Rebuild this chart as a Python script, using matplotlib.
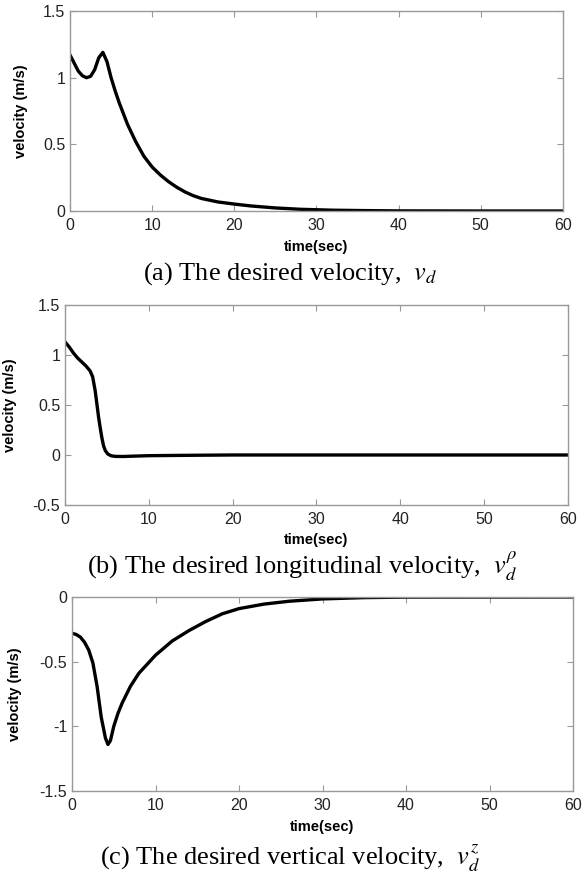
import matplotlib.pyplot as plt

plt.rcParams['font.family'] = ['Liberation Sans', 'DejaVu Sans']
plt.rcParams['mathtext.fontset'] = 'stix'

# (a) desired velocity
t_a = [0, 0.5, 1, 1.5, 2, 2.5, 3, 3.5, 4, 4.5, 5, 5.5, 6, 7, 8, 9, 10, 11, 12,
       13, 14, 15, 16, 18, 20, 22, 25, 28, 32, 36, 40, 50, 60]
v_a = [1.17, 1.11, 1.05, 1.015, 1.0, 1.01, 1.06, 1.15, 1.19, 1.12, 1.0, 0.90,
       0.81, 0.65, 0.52, 0.41, 0.33, 0.27, 0.22, 0.178, 0.143, 0.115, 0.094,
       0.068, 0.052, 0.038, 0.023, 0.013, 0.006, 0.003, 0.001, 0, 0]

# (b) desired longitudinal velocity
t_b = [0, 0.5, 1, 1.5, 2, 2.5, 3, 3.3, 3.6, 3.8, 4.0, 4.2, 4.4, 4.6, 4.8, 5.1,
       5.5, 6, 7, 8, 10, 15, 20, 60]
v_b = [1.13, 1.08, 1.02, 0.97, 0.93, 0.89, 0.84, 0.78, 0.64, 0.51, 0.38, 0.27,
       0.17, 0.09, 0.045, 0.01, -0.008, -0.014, -0.015, -0.012, -0.007, -0.003,
       0, 0]

# (c) desired vertical velocity
t_c = [0, 0.5, 1, 1.5, 2, 2.5, 3, 3.5, 4, 4.3, 4.6, 5, 5.5, 6, 7, 8, 9, 10, 12,
       14, 16, 18, 20, 23, 26, 30, 35, 40, 60]
v_c = [-0.28, -0.29, -0.31, -0.35, -0.41, -0.51, -0.69, -0.93, -1.09, -1.14,
       -1.11, -1.0, -0.9, -0.82, -0.69, -0.59, -0.52, -0.45, -0.34, -0.26,
       -0.19, -0.13, -0.09, -0.055, -0.033, -0.015, -0.005, -0.001, 0]

xticks = [0, 10, 20, 30, 40, 50, 60]

panels = [
    (t_a, v_a, [0.1195, 0.7594, 0.841, 0.228], (0, 1.5), [0, 0.5, 1, 1.5],
     ['0', '0.5', '1', '1.5'], -0.085, -0.145,
     r"(a) The desired velocity,  $v_d$", 0.496, 0.6807),
    (t_b, v_b, [0.111, 0.4242, 0.858, 0.228], (-0.5, 1.5), [-0.5, 0, 0.5, 1, 1.5],
     ['-0.5', '0', '0.5', '1', '1.5'], -0.095, -0.14,
     r"(b) The desired longitudinal velocity,  $v_d^{\rho}$", 0.516, 0.3455),
    (t_c, v_c, [0.1229, 0.098, 0.855, 0.2213], (-1.5, 0), [-1.5, -1, -0.5, 0],
     ['-1.5', '-1', '-0.5', '0'], -0.1, -0.15,
     r"(c) The desired vertical velocity,  $v_d^{z}$", 0.495, 0.0137),
]

fig = plt.figure(figsize=(5.86, 8.77), dpi=100)

for t, v, rect, ylim, yt, ytl, ylx, xly, cap, cx, cy in panels:
    ax = fig.add_axes(rect)
    ax.plot(t, v, color='black', linewidth=2.4)
    ax.set_xlim(0, 60)
    ax.set_ylim(*ylim)
    ax.set_xticks(xticks)
    ax.set_xticklabels([str(x) for x in xticks])
    ax.set_yticks(yt)
    ax.set_yticklabels(ytl)
    ax.tick_params(direction='in', length=4, width=0.8, top=True, right=True,
                   labelsize=11.5, colors='#999999', labelcolor='#222222')
    ax.tick_params(axis='x', pad=5)
    for s in ax.spines.values():
        s.set_color('#999999')
        s.set_linewidth(1.0)
    ax.set_ylabel('velocity (m/s)', fontsize=10.5, fontweight='bold')
    ax.set_xlabel('time(sec)', fontsize=10.5, fontweight='bold', va='top')
    ax.yaxis.set_label_coords(ylx, 0.5)
    ax.xaxis.set_label_coords(0.5, xly)
    fig.text(cx, cy, cap, ha='center', va='baseline', fontsize=19,
             family='Liberation Serif')

fig.savefig('out.png', dpi=100)
